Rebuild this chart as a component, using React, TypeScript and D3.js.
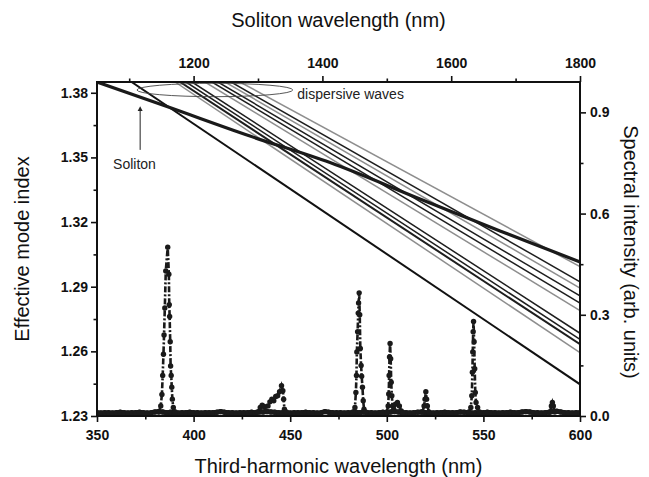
import React, { useRef, useEffect } from 'react';
import * as d3 from 'd3';

const FONT = '"Liberation Sans", Arial, sans-serif';
const W = 649;
const H = 477;
const margin = { top: 82, right: 69, bottom: 61, left: 97 };

// axes
const thNmTicks = [350, 400, 450, 500, 550, 600];
const thNmMinor = [375, 425, 475, 525, 575];
const solitonTicks = [1200, 1400, 1600, 1800];
const solitonMinor = [1100, 1300, 1500, 1700];
const indexTicks = [1.23, 1.26, 1.29, 1.32, 1.35, 1.38];
const indexMinor = [1.245, 1.275, 1.305, 1.335, 1.365];
const intensityTicks = [0, 0.3, 0.6, 0.9];
const intensityMinor = [0.15, 0.45, 0.75];

// mode index curves, [third-harmonic nm, effective index]
const solitonCurve = [
  [350, 1.385], [386.2, 1.3736], [429.2, 1.3599], [470.6, 1.3476],
  [517.2, 1.3307], [558.6, 1.3159], [600, 1.3015],
];
const steepCurve = [[367.9, 1.385], [600, 1.2447]];

// dispersive wave lines: where they leave the top edge (nm) and reach 600 nm (index)
const dispStartNm = [390.4, 393.0, 396.1, 399.2, 405.9, 409.5, 412.6, 416.3, 419.4, 424.0];
const dispEndIndex = [1.2594, 1.2633, 1.2656, 1.2684, 1.2789, 1.2824, 1.2857, 1.2894, 1.2923, 1.2993];
const dispTone = ['gray', 'black', 'black', 'black', 'gray', 'black', 'black', 'gray', 'black', 'gray'];

// spectrum baseline, every 2 nm from 350 nm
const baselineLevel = [
  0.010, 0.009, 0.010, 0.010, 0.009, 0.010, 0.011, 0.010, 0.009, 0.010,
  0.010, 0.011, 0.010, 0.009, 0.010, 0.012, 0.013, 0.012, 0.010, 0.011,
  0.010, 0.009, 0.010, 0.010, 0.011, 0.010, 0.010, 0.009, 0.010, 0.010,
  0.010, 0.011, 0.013, 0.011, 0.010, 0.010, 0.009, 0.010, 0.010, 0.010,
  0.011, 0.010, 0.012, 0.012, 0.013, 0.012, 0.011, 0.010, 0.010, 0.010,
  0.009, 0.010, 0.010, 0.010, 0.011, 0.010, 0.010, 0.009, 0.010, 0.013,
  0.011, 0.010, 0.010, 0.010, 0.009, 0.010, 0.010, 0.011, 0.010, 0.012,
  0.010, 0.010, 0.009, 0.010, 0.011, 0.010, 0.012, 0.013, 0.012, 0.010,
  0.010, 0.009, 0.010, 0.011, 0.012, 0.010, 0.010, 0.009, 0.010, 0.010,
  0.011, 0.010, 0.010, 0.010, 0.012, 0.011, 0.010, 0.009, 0.010, 0.010,
  0.010, 0.011, 0.010, 0.010, 0.009, 0.010, 0.010, 0.011, 0.010, 0.010,
  0.012, 0.013, 0.012, 0.010, 0.010, 0.009, 0.010, 0.011, 0.013, 0.014,
  0.012, 0.010, 0.010, 0.009, 0.010, 0.010,
];

// spectral peaks, [nm, intensity]
const peak387 = [
  [382, 0.012], [383, 0.03], [383.6, 0.064], [384, 0.12], [384.4, 0.183], [384.7, 0.24],
  [385.1, 0.32], [385.6, 0.43], [386.6, 0.5], [387.2, 0.42], [387.4, 0.33], [387.6, 0.295],
  [387.9, 0.22], [388.1, 0.148], [388.4, 0.12], [388.7, 0.085], [389, 0.05], [389.5, 0.025], [390.5, 0.012],
];
const peak445 = [
  [433, 0.012], [434.5, 0.025], [435.5, 0.032], [436.5, 0.028], [437.5, 0.015], [438.5, 0.03],
  [439.5, 0.042], [440.5, 0.05], [441.5, 0.045], [442.5, 0.058], [443.5, 0.06], [444.5, 0.072],
  [445.5, 0.09], [446.2, 0.075], [446.6, 0.05], [447, 0.02], [448, 0.012],
];
const peak486 = [
  [482.5, 0.012], [483.5, 0.025], [484, 0.07], [484.3, 0.12], [484.5, 0.19], [484.9, 0.25],
  [485.2, 0.305], [485.4, 0.335], [485.7, 0.365], [486, 0.3], [486.3, 0.2], [486.7, 0.15],
  [487, 0.118], [487.4, 0.085], [487.8, 0.045], [488.2, 0.02], [489, 0.012],
];
const peak502 = [
  [500, 0.012], [500.7, 0.03], [501, 0.065], [501.2, 0.12], [501.4, 0.175], [501.7, 0.215],
  [502, 0.17], [502.3, 0.1], [502.6, 0.06], [503, 0.03], [503.6, 0.02], [504.5, 0.035],
  [505.5, 0.04], [506.5, 0.03], [507.5, 0.015], [508.5, 0.01],
];
const peak520 = [
  [518.5, 0.012], [519.3, 0.03], [519.8, 0.05], [520.2, 0.072], [520.6, 0.05], [521, 0.03], [521.8, 0.012],
];
const peak545 = [
  [542.5, 0.012], [543.5, 0.025], [544, 0.06], [544.3, 0.13], [544.5, 0.19], [544.7, 0.25],
  [544.9, 0.28], [545.2, 0.22], [545.5, 0.14], [545.8, 0.07], [546.2, 0.04], [547, 0.025], [548, 0.012],
];
const peak586 = [[584.5, 0.012], [585.2, 0.03], [585.7, 0.04], [586.2, 0.03], [587, 0.012]];

const App = () => {
  const ref = useRef<SVGSVGElement>(null);

  useEffect(() => {
    const root = d3.select(ref.current);
    root.selectAll('*').remove();
    const width = W - margin.left - margin.right;
    const height = H - margin.top - margin.bottom;

    root.append('rect').attr('width', W).attr('height', H).attr('fill', '#fff');
    const svg = root.append('g').attr('transform', `translate(${margin.left},${margin.top})`);

    const x = d3.scaleLinear().domain([350, 600]).range([0, width]);
    const xTop = d3.scaleLinear().domain([1050, 1800]).range([0, width]);
    const y = d3.scaleLinear().domain([1.23, 1.385]).range([height, 0]);
    const yR = d3.scaleLinear().domain([0, 0.99]).range([height, 0]);

    svg.append('clipPath').attr('id', 'plot-clip')
      .append('rect').attr('width', width).attr('height', height);
    const plot = svg.append('g').attr('clip-path', 'url(#plot-clip)');

    const idxLine = d3.line<number[]>().x((d) => x(d[0])).y((d) => y(d[1]));

    // dispersive waves: gray first, black on top
    const disp = dispStartNm.map((s, i) => ({ pts: [[s, 1.385], [600, dispEndIndex[i]]], tone: dispTone[i], i }));
    disp.sort((a, b) => (a.tone === b.tone ? 0 : a.tone === 'gray' ? -1 : 1));
    disp.forEach((d) => {
      plot.append('path').datum(d.pts).attr('d', idxLine)
        .attr('fill', 'none')
        .attr('stroke', d.tone === 'gray' ? '#8e8e8e' : '#1e1e1e')
        .attr('stroke-width', d.i === 1 ? 2 : 1.5);
    });

    plot.append('path').datum(steepCurve).attr('d', idxLine)
      .attr('fill', 'none').attr('stroke', '#111').attr('stroke-width', 2);

    plot.append('path').datum(solitonCurve)
      .attr('d', idxLine.curve(d3.curveMonotoneX))
      .attr('fill', 'none').attr('stroke', '#1a1a1a').attr('stroke-width', 3.2);

    // spectrum
    const specLine = d3.line<number[]>().x((d) => x(d[0])).y((d) => yR(d[1]));
    const baseline = baselineLevel.map((v, i) => [350 + 2 * i, v]);
    const series = [baseline, peak387, peak445, peak486, peak502, peak520, peak545, peak586];
    series.forEach((s) => {
      const isBase = s === baseline;
      plot.append('path').datum(s).attr('d', specLine)
        .attr('fill', 'none').attr('stroke', '#1a1a1a')
        .attr('stroke-width', isBase ? 5 : 2.6)
        .attr('stroke-dasharray', isBase ? null : '6 2 2 2');
      plot.append('g').selectAll('circle').data(s).enter().append('circle')
        .attr('cx', (d) => x(d[0])).attr('cy', (d) => yR(d[1])).attr('r', 2.7)
        .attr('fill', '#1a1a1a');
    });

    // annotations
    svg.append('ellipse')
      .attr('cx', xTop(1233)).attr('cy', y(1.3813))
      .attr('rx', xTop(1233 + 121) - xTop(1233)).attr('ry', 6.7)
      .attr('fill', 'none').attr('stroke', '#444').attr('stroke-width', 0.9);
    svg.append('text').attr('x', xTop(1361)).attr('y', y(1.3772))
      .attr('font-family', FONT).attr('font-size', 14).attr('fill', '#222')
      .text('dispersive waves');

    const ax = xTop(1117);
    svg.append('line').attr('x1', ax).attr('x2', ax).attr('y1', y(1.3535)).attr('y2', y(1.3725))
      .attr('stroke', '#222').attr('stroke-width', 1);
    svg.append('path')
      .attr('d', `M${ax},${y(1.3738)} L${ax - 2.5},${y(1.3715)} L${ax + 2.5},${y(1.3715)} Z`)
      .attr('fill', '#222');
    svg.append('text').attr('x', xTop(1075)).attr('y', y(1.3447))
      .attr('font-family', FONT).attr('font-size', 14).attr('fill', '#222')
      .text('Soliton');

    // axes
    const style = (g) => {
      g.select('.domain').remove();
      g.selectAll('line').attr('stroke', '#111').attr('stroke-width', 1.6);
      g.selectAll('text').attr('font-family', FONT).attr('font-size', 14)
        .attr('font-weight', 'bold').attr('fill', '#111');
    };
    const blank = () => '';

    svg.append('g').attr('transform', `translate(0,${height})`)
      .call(d3.axisBottom(x).tickValues(thNmTicks).tickSize(6).tickPadding(8).tickFormat(d3.format('d'))).call(style);
    svg.append('g').attr('transform', `translate(0,${height})`)
      .call(d3.axisBottom(x).tickValues(thNmMinor).tickSize(3.5).tickFormat(blank)).call(style);

    svg.append('g')
      .call(d3.axisTop(xTop).tickValues(solitonTicks).tickSize(6).tickPadding(8).tickFormat(d3.format('d'))).call(style);
    svg.append('g')
      .call(d3.axisTop(xTop).tickValues(solitonMinor).tickSize(3.5).tickFormat(blank)).call(style);

    svg.append('g')
      .call(d3.axisLeft(y).tickValues(indexTicks).tickSize(6).tickPadding(3).tickFormat(d3.format('.2f'))).call(style);
    svg.append('g')
      .call(d3.axisLeft(y).tickValues(indexMinor).tickSize(3.5).tickFormat(blank)).call(style);

    svg.append('g').attr('transform', `translate(${width},0)`)
      .call(d3.axisRight(yR).tickValues(intensityTicks).tickSize(6).tickPadding(4).tickFormat(d3.format('.1f'))).call(style);
    svg.append('g').attr('transform', `translate(${width},0)`)
      .call(d3.axisRight(yR).tickValues(intensityMinor).tickSize(3.5).tickFormat(blank)).call(style);

    svg.append('rect').attr('width', width).attr('height', height)
      .attr('fill', 'none').attr('stroke', '#111').attr('stroke-width', 2);

    // titles
    const title = (t) => t.attr('font-family', FONT).attr('font-size', 20).attr('fill', '#111')
      .attr('text-anchor', 'middle');
    root.append('text').attr('x', margin.left + width / 2).attr('y', 473)
      .call(title).text('Third-harmonic wavelength (nm)');
    root.append('text').attr('x', margin.left + width / 2).attr('y', 27)
      .call(title).text('Soliton wavelength (nm)');
    root.append('text').attr('transform', `translate(29,${margin.top + height / 2}) rotate(-90)`)
      .call(title).text('Effective mode index');
    root.append('text').attr('transform', `translate(624,${margin.top + height / 2 + 3}) rotate(90)`)
      .call(title).text('Spectral intensity (arb. units)');
  }, []);

  return (
    <svg ref={ref} width={W} height={H}
      style={{ position: 'absolute', left: 0, top: 0, display: 'block' }} />
  );
};

export default App;
